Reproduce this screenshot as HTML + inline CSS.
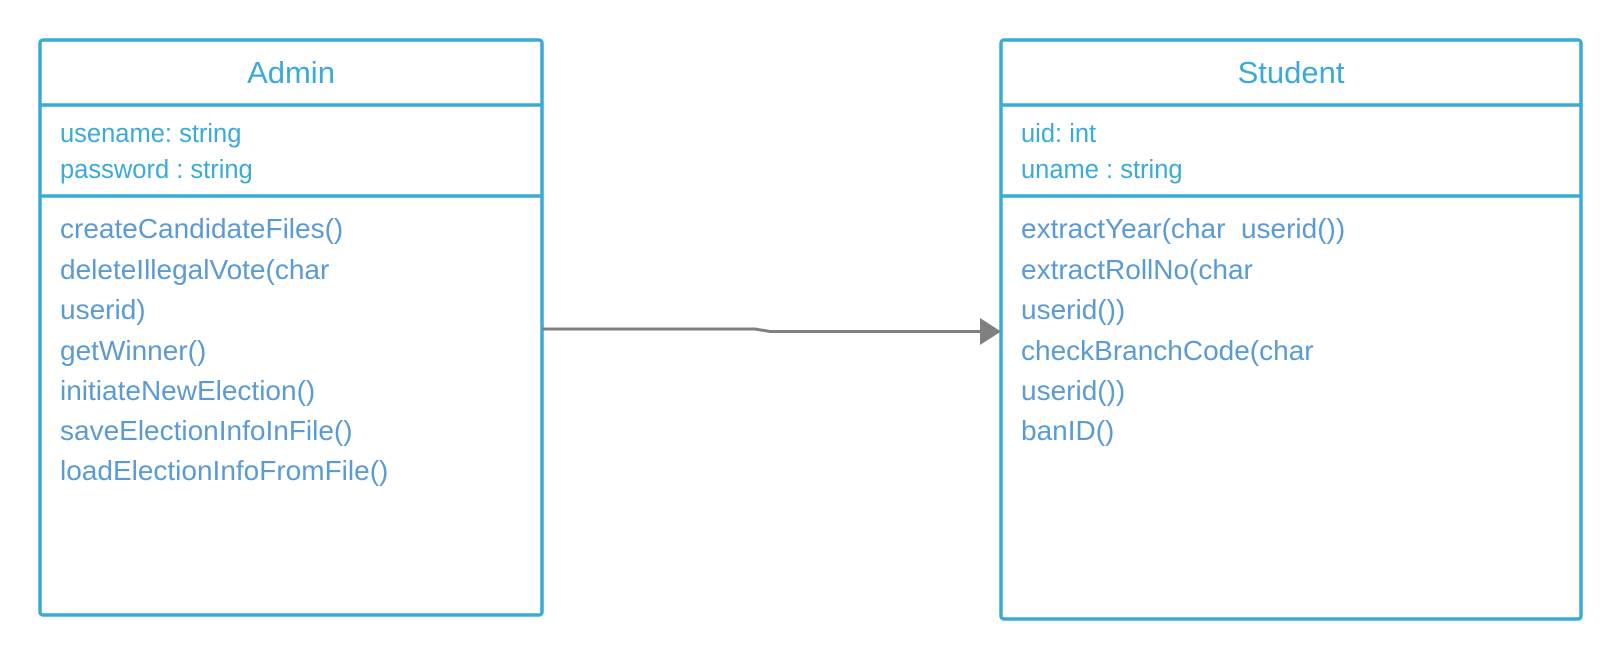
<!DOCTYPE html>
<html><head><meta charset="utf-8"><style>
html,body{margin:0;padding:0;background:#fff;}
svg{display:block;}
text{font-family:"Liberation Sans",sans-serif;}
.t{fill:#3aabd8;font-size:31px;}
.a{fill:#3aabd8;font-size:25.5px;}
.m{fill:#5b9bd5;font-size:28px;}
</style></head><body>
<svg width="1620" height="660" viewBox="0 0 1620 660" xmlns="http://www.w3.org/2000/svg">
<g fill="none" stroke="#3aabd8" stroke-width="3.5">
<rect x="40" y="40" width="502" height="575" rx="3"/>
<line x1="40" y1="105" x2="542" y2="105"/>
<line x1="40" y1="196" x2="542" y2="196"/>
<rect x="1001" y="40" width="580" height="579" rx="3"/>
<line x1="1001" y1="105" x2="1581" y2="105"/>
<line x1="1001" y1="196" x2="1581" y2="196"/>
</g>
<path d="M542 329 H755 L770 331.5 H982" fill="none" stroke="#808080" stroke-width="3"/>
<polygon points="980,318 1001,331.5 980,345" fill="#808080"/>
<text class="t" x="291" y="83" text-anchor="middle">Admin</text>
<text class="a" x="60" y="142">usename: string</text>
<text class="a" x="60" y="178">password : string</text>
<text class="m" x="60" y="238">createCandidateFiles()</text>
<text class="m" x="60" y="279">deleteIllegalVote(char</text>
<text class="m" x="60" y="319">userid)</text>
<text class="m" x="60" y="360">getWinner()</text>
<text class="m" x="60" y="400">initiateNewElection()</text>
<text class="m" x="60" y="440">saveElectionInfoInFile()</text>
<text class="m" x="60" y="480">loadElectionInfoFromFile()</text>
<text class="t" x="1291" y="83" text-anchor="middle">Student</text>
<text class="a" x="1021" y="142">uid: int</text>
<text class="a" x="1021" y="178">uname : string</text>
<text class="m" x="1021" y="238" xml:space="preserve">extractYear(char  userid())</text>
<text class="m" x="1021" y="279">extractRollNo(char</text>
<text class="m" x="1021" y="319">userid())</text>
<text class="m" x="1021" y="360">checkBranchCode(char</text>
<text class="m" x="1021" y="400">userid())</text>
<text class="m" x="1021" y="440">banID()</text>
</svg>
</body></html>
